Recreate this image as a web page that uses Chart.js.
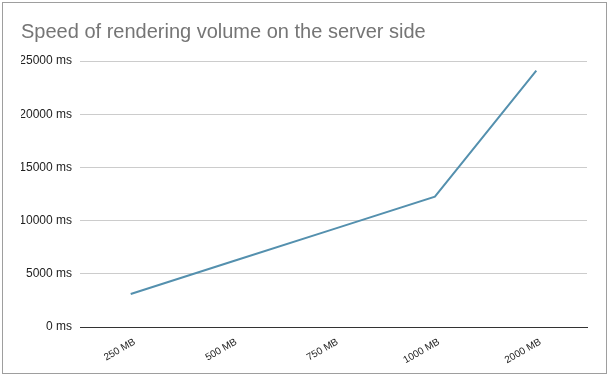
<!DOCTYPE html>
<html>
<head>
<meta charset="utf-8">
<script src="https://cdn.jsdelivr.net/npm/chart.js@4.4.1/dist/chart.umd.min.js"></script>
<style>
  html, body { margin: 0; padding: 0; background: #fff; }
  #wrap { position: relative; width: 608px; height: 376px; }
  #frame {
    position: absolute; left: 2px; top: 2px; width: 605px; height: 372px;
    box-sizing: border-box; border: 1px solid #9e9e9e; pointer-events: none;
  }
</style>
</head>
<body>
<div id="wrap">
  <canvas id="speedChart" width="608" height="376"></canvas>
  <div id="frame"></div>
</div>
<script>
// chart data
const chartTitle = 'Speed of rendering volume on the server side';
const volumes = ['250 MB', '500 MB', '750 MB', '1000 MB', '2000 MB'];
const renderTimes = [3100, 6150, 9200, 12250, 24100];
const yTicks = [0, 5000, 10000, 15000, 20000, 25000];

function renderChart() {
    const ctx = document.getElementById('speedChart').getContext('2d');
    new Chart(ctx, {
        type: 'line',
        data: {
            labels: volumes,
            datasets: [{
                label: 'Render time',
                data: renderTimes,
                borderColor: '#5490ae',
                borderWidth: 2,
                pointRadius: 0,
                tension: 0,
                fill: false
            }]
        },
        options: {
            responsive: false,
            animation: false,
            layout: { padding: { left: 21, right: 21, top: 6, bottom: 0 } },
            plugins: {
                legend: { display: false },
                tooltip: { enabled: false },
                title: {
                    display: true,
                    text: chartTitle,
                    align: 'start',
                    color: '#757575',
                    font: { family: '"Liberation Sans", Arial, sans-serif', size: 20, weight: 'normal' },
                    padding: { top: 14, bottom: 17 }
                }
            },
            scales: {
                x: {
                    offset: true,
                    grid: { display: false, drawTicks: false },
                    border: { display: true, color: '#333333', width: 1 },
                    ticks: {
                        color: '#222222',
                        font: { family: '"Liberation Sans", Arial, sans-serif', size: 10 },
                        minRotation: 30,
                        maxRotation: 30,
                        padding: 9,
                        labelOffset: 4
                    },
                    afterFit: scale => { scale.height = 49; }
                },
                y: {
                    min: 0,
                    max: 25000,
                    afterBuildTicks: scale => {
                        scale.ticks = yTicks.map(v => ({ value: v }));
                    },
                    grid: { color: '#cccccc', drawTicks: false },
                    border: { display: false },
                    ticks: {
                        color: '#222222',
                        font: { family: '"Liberation Sans", Arial, sans-serif', size: 12 },
                        padding: 8,
                        callback: v => v + ' ms'
                    },
                    afterFit: scale => { scale.width = 59; }
                }
            }
        }
    });
}

window.onload = renderChart;
</script>
</body>
</html>
